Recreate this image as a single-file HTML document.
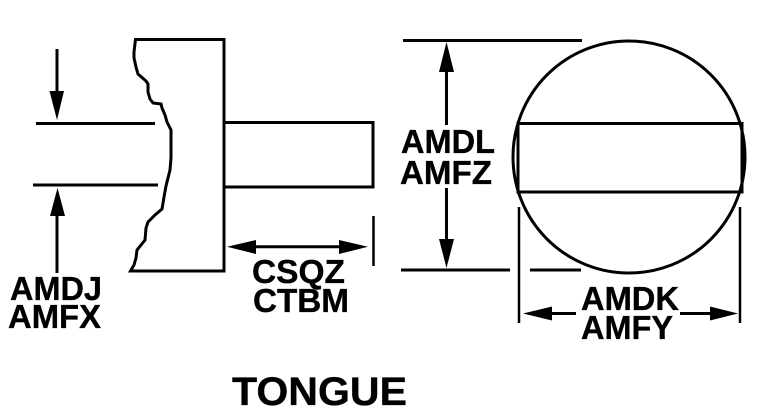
<!DOCTYPE html>
<html>
<head>
<meta charset="utf-8">
<style>
html,body{margin:0;padding:0;background:#fff;width:760px;height:415px;overflow:hidden}
svg{display:block}
text{font-family:"Liberation Sans",Arial,sans-serif;font-weight:bold;fill:#000;stroke:#000;stroke-width:.35px;font-size:33px}
</style>
</head>
<body>
<svg width="760" height="415" viewBox="0 0 760 415" xmlns="http://www.w3.org/2000/svg">
<rect width="760" height="415" fill="#fff"/>
<g fill="none" stroke="#000" stroke-width="3">
  <!-- block -->
  <path d="M135.5 39.5H224V271H130.5L134 265L136 258L137 250L141 245L145 240L146 228L148 222L155 215L162 209L164 197L166 186L170 170L171 158V130L167 122L165 115L162 108L161 104L153 103L150 99L148 92L148 84L146 81L138 74L136 67L134 58L134 52L135.5 39.5Z"/>
  <!-- tongue -->
  <path d="M225 122.5H373V187H225"/>
  <!-- left dims -->
  <path d="M36 123.5H155"/>
  <path d="M33 185H158"/>
  <path d="M57 49V92"/>
  <path d="M57 215V273"/>
  <!-- middle dim -->
  <path d="M373.5 216V266" stroke-width="2.5"/>
  <path d="M255 246.7H340"/>
  <!-- right block -->
  <path d="M403 40.5H582"/>
  <path d="M401 270H510"/>
  <path d="M530 270H581"/>
  <path d="M446.5 72V125"/>
  <path d="M446.5 188V241"/>
  <!-- circle -->
  <circle cx="629" cy="157" r="116"/>
  <path d="M518 192V123.5H742V192H518Z"/>
  <path d="M519 207V323" stroke-width="2.5"/>
  <path d="M740 207V323" stroke-width="2.5"/>
  <path d="M550 313.5H576"/>
  <path d="M680 313.5H712"/>
</g>
<g fill="#000">
  <polygon points="49.5,91 64,91 57,120"/>
  <polygon points="50,216 65,216 57.5,188"/>
  <polygon points="227,246.7 256,240 256,254"/>
  <polygon points="368,246.7 339,240 339,254"/>
  <polygon points="446.5,42 439,72 454,72"/>
  <polygon points="446.5,268 439,239 454,239"/>
  <polygon points="523,313.5 552,306.5 552,320.5"/>
  <polygon points="738,313.5 710,306.5 710,320.5"/>
</g>
<text x="10" y="300" textLength="92" lengthAdjust="spacingAndGlyphs">AMDJ</text>
<text x="8" y="328" textLength="93" lengthAdjust="spacingAndGlyphs">AMFX</text>
<text x="252" y="283" textLength="93" lengthAdjust="spacingAndGlyphs">CSQZ</text>
<text x="253" y="312" textLength="96" lengthAdjust="spacingAndGlyphs">CTBM</text>
<text x="401" y="153" textLength="94" lengthAdjust="spacingAndGlyphs">AMDL</text>
<text x="400" y="184" textLength="92" lengthAdjust="spacingAndGlyphs">AMFZ</text>
<text x="581" y="310" textLength="98" lengthAdjust="spacingAndGlyphs">AMDK</text>
<text x="581" y="339" textLength="92" lengthAdjust="spacingAndGlyphs">AMFY</text>
<text x="232" y="405" style="font-size:40px" textLength="175" lengthAdjust="spacingAndGlyphs">TONGUE</text>
</svg>
</body>
</html>
